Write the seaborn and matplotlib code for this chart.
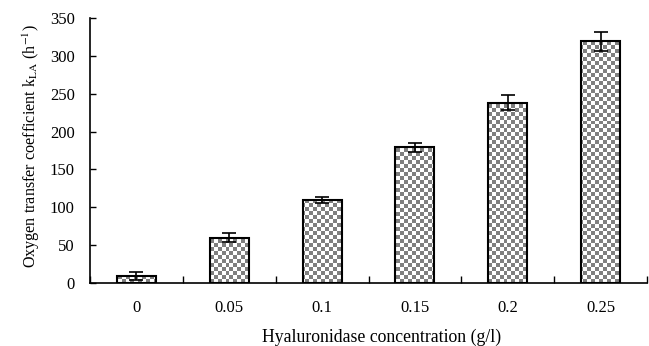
import numpy as np
import pandas as pd
import matplotlib
matplotlib.use("Agg")
import matplotlib.pyplot as plt
import seaborn as sns

categories = ["0", "0.05", "0.1", "0.15", "0.2", "0.25"]
kla_values = [9, 60, 110, 179, 238, 319]
kla_errors = [5, 6, 4, 6, 10, 12]

sns.set_theme(style="ticks")
plt.rcParams['font.family'] = ['Liberation Serif', 'DejaVu Serif']
plt.rcParams['mathtext.fontset'] = 'stix'

df = pd.DataFrame({"conc": categories, "kla": kla_values})

fig = plt.figure(figsize=(6.49, 3.46), dpi=100)
ax = fig.add_axes([0.1387, 0.182, 0.997 - 0.1387, 0.948 - 0.182])

sns.barplot(data=df, x="conc", y="kla", order=categories, width=0.42,
            facecolor="none", edgecolor="black", linewidth=1.5, ax=ax, zorder=3)

ax.errorbar(np.arange(len(categories)), kla_values, yerr=kla_errors, fmt="none",
            ecolor="black", elinewidth=1.2, capsize=5, capthick=1.2, zorder=4)

ax.set_xlim(-0.5, len(categories) - 0.5)
ax.set_ylim(0, 350)
ax.set_yticks(np.arange(0, 351, 50))

# checkerboard fill clipped to each bar
cell = 4
w_px = int(ax.bbox.width / cell) + 1
h_px = int(ax.bbox.height / cell) + 1
ii, jj = np.indices((h_px, w_px))
board = ((ii + jj) % 2).astype(float)
for p in ax.patches:
    im = ax.imshow(board, cmap=matplotlib.colors.ListedColormap(["#7f7f7f", "white"]),
                   extent=[0, 1, 0, 1], transform=ax.transAxes, aspect="auto",
                   interpolation="nearest", zorder=2)
    im.set_clip_path(p)
ax.set_xlim(-0.5, len(categories) - 0.5)
ax.set_ylim(0, 350)

sns.despine(ax=ax)
for s in ["left", "bottom"]:
    ax.spines[s].set_linewidth(1.2)
    ax.spines[s].set_color("black")

ax.tick_params(axis="y", direction="in", length=4, width=1, labelsize=12, pad=11, colors="black")
ax.tick_params(axis="x", which="major", length=0, labelsize=12, pad=12, colors="black")
ax.set_xticks(np.arange(-0.5, len(categories), 1), minor=True)
ax.tick_params(axis="x", which="minor", direction="in", length=5, width=1, colors="black")

ax.set_xlabel("Hyaluronidase concentration (g/l)", fontsize=12.8, color="black")
ax.set_ylabel(r"Oxygen transfer coefficient k$_{\mathrm{LA}}$ (h$^{-1}$)", fontsize=11.6,
              color="black")
ax.xaxis.set_label_coords(0.524, -0.172)
ax.yaxis.set_label_coords(-0.087, 0.515)

fig.savefig("out.png", dpi=100)
